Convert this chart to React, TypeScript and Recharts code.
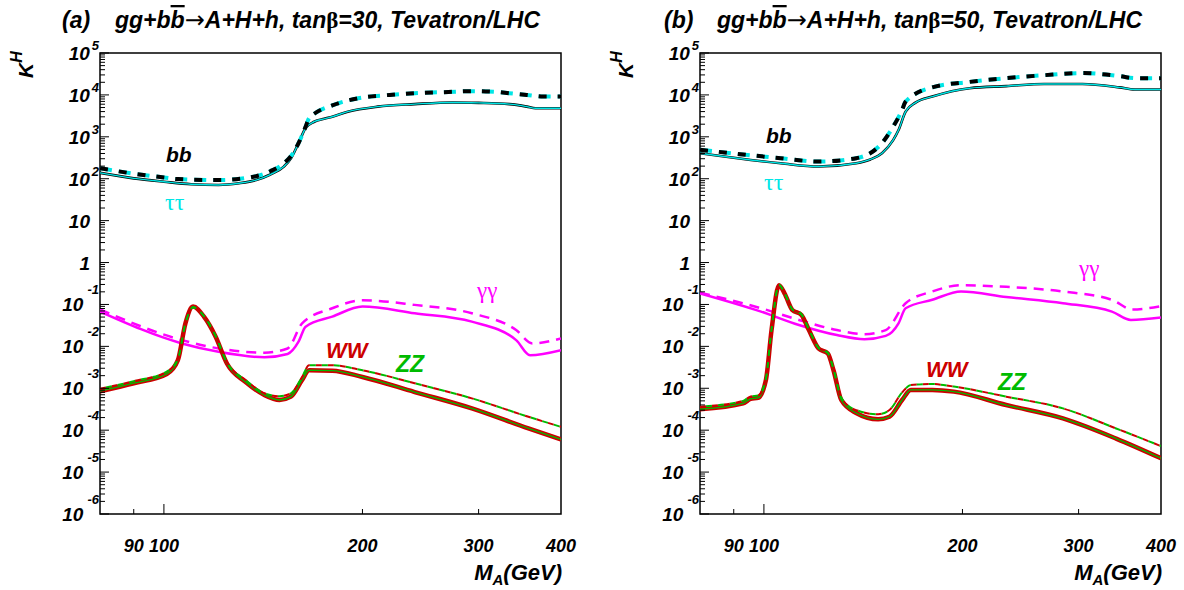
import { LineChart, Line, XAxis, YAxis, ReferenceArea } from "recharts";

const FONT = "'Liberation Sans', Arial, sans-serif";
const GREEK = "'Liberation Serif', 'DejaVu Serif', serif";

// ---- panel (a): tan beta = 30 ----
const bbSolidMassA = [80, 90, 100, 110, 121, 130, 138, 145, 152, 156, 160, 164, 169, 175, 180, 190, 211, 240, 274, 300, 334, 355, 366, 400];
const bbSolidA = [138, 102, 85, 74, 71, 78, 93, 126, 195, 316, 708, 1620, 2290, 2690, 3020, 3980, 5250, 6030, 6610, 6460, 6030, 5250, 4790, 4790];
const bbDashMassA = [80, 90, 100, 105, 121, 138, 145, 152, 156, 160, 164, 166, 169, 180, 197, 220, 240, 270, 293, 320, 334, 355, 376, 400];
const bbDashA = [178, 132, 107, 98, 93, 115, 151, 234, 355, 708, 1740, 2820, 3550, 5620, 8320, 10000, 10960, 11750, 12300, 11750, 10960, 10000, 9120, 9120];
const ggSolidMassA = [80, 106.5, 121, 142, 154, 160, 164, 180, 200, 240, 293, 342, 359, 400];
const ggSolidA = [0.0676, 0.01175, 0.00741, 0.0055, 0.0066, 0.0129, 0.0295, 0.0513, 0.0891, 0.0617, 0.0389, 0.0141, 0.00617, 0.00813];
const ggDashMassA = [80, 106.5, 121, 142, 154, 162, 180, 200, 240, 293, 342, 362, 400];
const ggDashA = [0.0759, 0.0141, 0.00891, 0.00708, 0.00891, 0.0355, 0.0813, 0.126, 0.0977, 0.0617, 0.0245, 0.01175, 0.0155];
const wwMassA = [80, 90, 101, 105, 107.8, 110.7, 115, 119.8, 124.6, 133, 142, 149.7, 155.8, 162, 166, 180, 200, 240, 293, 357, 400];
const wwSolidA = [8.5e-4, 1.32e-3, 2.19e-3, 4.68e-3, 0.0355, 0.0891, 0.0513, 0.017, 3.89e-3, 1.41e-3, 6.92e-4, 5.25e-4, 6.31e-4, 1.58e-3, 2.69e-3, 2.63e-3, 1.86e-3, 8.13e-4, 3.31e-4, 1.1e-4, 6.03e-5];
const wwDashA = [9.77e-4, 1.48e-3, 2.51e-3, 5.01e-3, 0.0355, 0.0851, 0.0537, 0.0178, 4.17e-3, 1.58e-3, 7.59e-4, 6.46e-4, 7.59e-4, 1.86e-3, 3.55e-3, 3.55e-3, 2.69e-3, 1.32e-3, 5.75e-4, 2.09e-4, 1.2e-4];

// ---- panel (b): tan beta = 50 ----
const bbSolidMassB = [80, 106, 121, 138, 145, 151, 157, 160, 164, 170, 180, 205, 233, 266, 304, 346, 365, 400];
const bbSolidB = [407, 234, 195, 234, 288, 407, 832, 1450, 3980, 6610, 9120, 14450, 16220, 18200, 18200, 15140, 13490, 13490];
const bbDashMassB = [80, 106, 121, 138, 151, 157, 162, 164, 180, 205, 233, 266, 304, 346, 365, 400];
const bbDashB = [490, 309, 257, 309, 708, 1740, 4370, 6920, 15140, 20420, 25120, 29510, 33110, 28180, 25120, 25120];
const ggSolidMassB = [80, 99, 113, 129, 142, 153, 160, 164, 180, 199, 233, 284, 337, 360, 400];
const ggSolidB = [0.184, 0.0676, 0.0324, 0.0186, 0.0148, 0.0178, 0.0355, 0.0813, 0.129, 0.204, 0.151, 0.107, 0.0676, 0.0427, 0.049];
const ggDashMassB = [80, 99, 113, 129, 142, 153, 164, 180, 199, 233, 284, 337, 362, 400];
const ggDashB = [0.191, 0.0813, 0.0427, 0.0245, 0.0195, 0.0245, 0.107, 0.204, 0.288, 0.263, 0.204, 0.129, 0.0759, 0.0912];
const wwMassB = [80, 93, 95.5, 98, 100.7, 102.7, 105.4, 107.5, 110.4, 114, 117, 121, 125, 127.5, 131, 138, 149, 155, 162, 167, 180, 194, 233, 284, 342, 400];
const wwSolidB = [3.16e-4, 4.37e-4, 5.6e-4, 5.9e-4, 1.58e-3, 0.0245, 0.288, 0.182, 0.0741, 0.0562, 0.0245, 8.91e-3, 6.76e-3, 2.69e-3, 5.25e-4, 2.57e-4, 1.82e-4, 2.09e-4, 5.25e-4, 9.12e-4, 9.12e-4, 8.32e-4, 3.98e-4, 1.91e-4, 6.31e-5, 2.14e-5];
const wwDashB = [3.63e-4, 5.01e-4, 6.4e-4, 6.7e-4, 1.74e-3, 0.0257, 0.295, 0.186, 0.0776, 0.0589, 0.0257, 9.33e-3, 7.08e-3, 2.95e-3, 6.03e-4, 3.02e-4, 2.4e-4, 3.02e-4, 7.94e-4, 1.2e-3, 1.26e-3, 1.1e-3, 6.31e-4, 3.31e-4, 1.1e-4, 4.17e-5];

// axis ticks
const xTicks = [90, 100, 200, 300, 400];
const yExponents = [-6, -5, -4, -3, -2, -1, 0, 1, 2, 3, 4, 5];
const yTicks: number[] = [];
yExponents.forEach((e) => {
  for (let k = 1; k <= 9; k++) {
    if (e === 5 && k > 1) break;
    yTicks.push(k * Math.pow(10, e));
  }
});

const pts = (ms: number[], vs: number[]) => ms.map((m, i) => ({ m, v: vs[i] }));

const CYAN = "#00e6e6";
const MAGENTA = "#ff00ff";
const RED = "#cc0000";
const GREEN = "#00bb00";

type Pt = { m: number; v: number };
type Series = { data: Pt[]; stroke: string; width: number; dash?: string; offset?: number };

const makeSeries = (bbS: Pt[], bbD: Pt[], ggS: Pt[], ggD: Pt[], wwS: Pt[], wwD: Pt[]): Series[] => [
  { data: bbS, stroke: "#000", width: 2.6 },
  { data: bbS, stroke: CYAN, width: 1.4 },
  { data: bbD, stroke: CYAN, width: 4, dash: "12 7" },
  { data: bbD, stroke: "#000", width: 4, dash: "8 11" },
  { data: ggS, stroke: MAGENTA, width: 2.5 },
  { data: ggD, stroke: MAGENTA, width: 2.5, dash: "10 7" },
  { data: wwS, stroke: RED, width: 4.5 },
  { data: wwS, stroke: GREEN, width: 1.3 },
  { data: wwD, stroke: RED, width: 2, dash: "6 6" },
  { data: wwD, stroke: GREEN, width: 2, dash: "6 6", offset: 6 },
];

const seriesA = makeSeries(
  pts(bbSolidMassA, bbSolidA), pts(bbDashMassA, bbDashA),
  pts(ggSolidMassA, ggSolidA), pts(ggDashMassA, ggDashA),
  pts(wwMassA, wwSolidA), pts(wwMassA, wwDashA)
);
const seriesB = makeSeries(
  pts(bbSolidMassB, bbSolidB), pts(bbDashMassB, bbDashB),
  pts(ggSolidMassB, ggSolidB), pts(ggDashMassB, ggDashB),
  pts(wwMassB, wwSolidB), pts(wwMassB, wwDashB)
);

const labelStyle = { fontFamily: FONT, fontWeight: "bold" as const, fontStyle: "italic" as const };

const YTick = (props: any) => {
  const { x, y, payload } = props;
  const v = payload.value;
  const lg = Math.log10(v);
  const e = Math.round(lg);
  const major = Math.abs(lg - e) < 1e-6;
  const tick = <line x1={x} x2={x + (major ? 9 : 5)} y1={y} y2={y} stroke="#000" strokeWidth={1} />;
  if (!major) return <g>{tick}</g>;
  if (e === 0 || e === 1) {
    return (
      <g>
        {tick}
        <text x={x - 10} y={y + 7} textAnchor="end" fontSize={19} fill="#000" {...labelStyle}>
          {e === 0 ? "1" : "10"}
        </text>
      </g>
    );
  }
  return (
    <g>
      {tick}
      <text x={x - 1} y={y + 7} textAnchor="end" fontSize={19} fill="#000" {...labelStyle}>
        <tspan>10</tspan>
        <tspan dx={e < 0 ? 4 : 2} dy={e < 0 ? -17 : -10} fontSize={13}>
          {e < 0 ? `-${-e}` : `${e}`}
        </tspan>
      </text>
    </g>
  );
};

const XTick = (props: any) => {
  const { x, y, payload } = props;
  const v = payload.value;
  return (
    <g>
      {v < 400 && <line x1={x} x2={x} y1={y} y2={y - (v === 100 ? 10 : 5)} stroke="#000" strokeWidth={1} />}
      <text x={x} y={y + 38} textAnchor="middle" fontSize={18} fill="#000" {...labelStyle}>
        {v}
      </text>
    </g>
  );
};

const Panel = ({ left, yWidth, rightMargin, series }: { left: number; yWidth: number; rightMargin: number; series: Series[] }) => (
  <div style={{ position: "absolute", left, top: 0 }}>
    <LineChart width={592} height={590} margin={{ top: 53, right: rightMargin, bottom: 0, left: 0 }}>
      <XAxis
        dataKey="m"
        type="number"
        scale="log"
        domain={[80, 400]}
        allowDataOverflow
        ticks={xTicks}
        interval={0}
        tickSize={0}
        tickMargin={0}
        tick={XTick}
        axisLine={false}
        height={76}
      />
      <YAxis
        type="number"
        scale="log"
        domain={[1e-6, 1e5]}
        allowDataOverflow
        ticks={yTicks}
        interval={0}
        tickSize={0}
        tickMargin={0}
        tick={YTick}
        axisLine={false}
        width={yWidth}
      />
      <ReferenceArea x1={80} x2={400} y1={1e-6} y2={1e5} fill="none" fillOpacity={0} stroke="#000" strokeWidth={1.5} ifOverflow="visible" />
      {series.map((s, i) => (
        <Line
          key={i}
          data={s.data}
          dataKey="v"
          type="monotone"
          stroke={s.stroke}
          strokeWidth={s.width}
          strokeDasharray={s.dash}
          strokeDashoffset={s.offset}
          dot={false}
          activeDot={false}
          isAnimationActive={false}
        />
      ))}
    </LineChart>
  </div>
);

const Title = ({ x, tag, tan }: { x: number; tag: string; tan: string }) => (
  <g {...labelStyle} fontSize={23} fill="#000">
    <text x={x} y={28}>{tag}</text>
    <text x={x + 53} y={28}>
      gg+b<tspan textDecoration="overline">b</tspan>
      <tspan fontStyle="normal" fontWeight="normal" fontFamily="'DejaVu Sans', sans-serif" fontSize={24}>→</tspan>A+H+h, tan
      <tspan fontStyle="normal" fontFamily={GREEK}>β</tspan>={tan}, Tevatron/LHC
    </text>
  </g>
);

const AxisTitles = ({ dx }: { dx: number }) => (
  <g {...labelStyle} fill="#000">
    <text transform={`translate(${33 + dx},78) rotate(-90)`} fontSize={21}>
      K<tspan dy={-11} fontSize={16}>H</tspan>
    </text>
    <text x={562 + dx} y={580} textAnchor="end" fontSize={22}>
      M<tspan dy={5} fontSize={15}>A</tspan>
      <tspan dy={-5}>(GeV)</tspan>
    </text>
  </g>
);

export default function App() {
  return (
    <div style={{ position: "absolute", left: 0, top: 0, width: 1184, height: 590, background: "#fff", overflow: "hidden" }}>
      <Panel left={0} yWidth={100} rightMargin={31} series={seriesA} />
      <Panel left={592} yWidth={108} rightMargin={23} series={seriesB} />
      <svg width={1184} height={590} style={{ position: "absolute", left: 0, top: 0, pointerEvents: "none" }}>
        <Title x={62} tag="(a)" tan="30" />
        <Title x={664} tag="(b)" tan="50" />
        <AxisTitles dx={0} />
        <AxisTitles dx={600} />
        {/* curve labels, panel (a) */}
        <text x={166} y={162} fontSize={21} fill="#000" {...labelStyle}>bb</text>
        <text x={165} y={210} fontSize={24} fill={CYAN} fontFamily={GREEK}>ττ</text>
        <text x={477} y={298} fontSize={23} fill={MAGENTA} fontFamily={GREEK}>γγ</text>
        <text x={326} y={358} fontSize={22} fill={RED} {...labelStyle}>WW</text>
        <text x={396} y={372} fontSize={23} fill={GREEN} {...labelStyle}>ZZ</text>
        {/* curve labels, panel (b) */}
        <text x={766} y={143} fontSize={21} fill="#000" {...labelStyle}>bb</text>
        <text x={764} y={190} fontSize={24} fill={CYAN} fontFamily={GREEK}>ττ</text>
        <text x={1079} y={276} fontSize={23} fill={MAGENTA} fontFamily={GREEK}>γγ</text>
        <text x={926} y={377} fontSize={22} fill={RED} {...labelStyle}>WW</text>
        <text x={998} y={390} fontSize={23} fill={GREEN} {...labelStyle}>ZZ</text>
      </svg>
    </div>
  );
}
